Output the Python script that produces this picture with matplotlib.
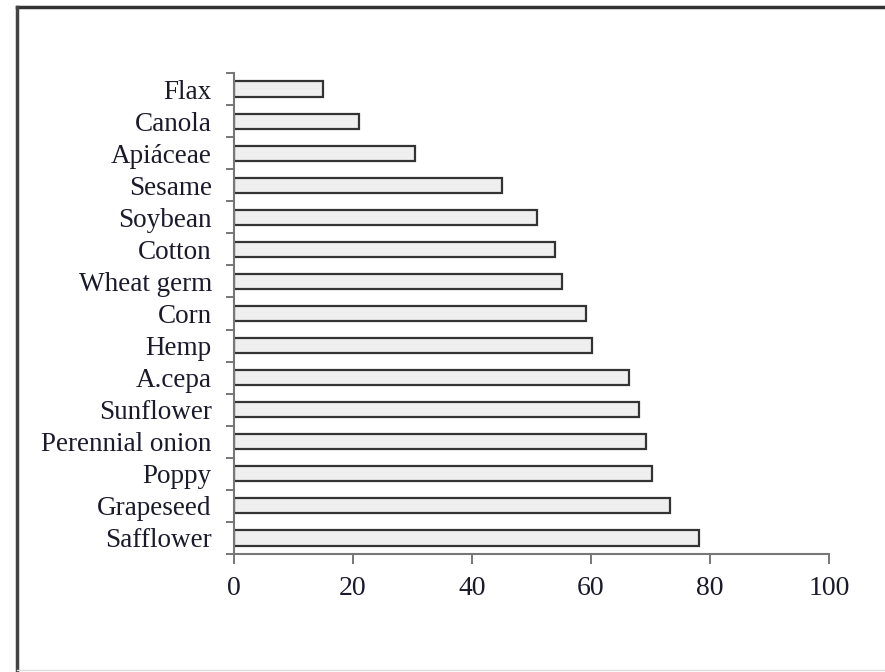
import matplotlib
matplotlib.use("Agg")
import matplotlib.pyplot as plt
from matplotlib.lines import Line2D
import numpy as np

# categories top to bottom
oils = ["Flax", "Canola", "Apiáceae", "Sesame", "Soybean", "Cotton", "Wheat germ",
        "Corn", "Hemp", "A.cepa", "Sunflower", "Perennial onion", "Poppy",
        "Grapeseed", "Safflower"]
values = [15, 21, 30.5, 45, 51, 54, 55.2, 59.2, 60.2, 66.4, 68.1, 69.2, 70.2, 73.2, 78.2]
xticks = [0, 20, 40, 60, 80, 100]

plt.rcParams['font.family'] = ['Liberation Serif', 'DejaVu Serif']

fig = plt.figure(figsize=(8.85, 6.72), dpi=100)
ax = fig.add_axes([234/885, 1 - 554/672, (829-234)/885, (554-73)/672])

pos = np.arange(len(oils))
ax.barh(pos, values, height=0.47, color='#efefef', edgecolor='#333333', linewidth=1.6)

ax.set_xlim(0, 100)
ax.set_ylim(len(oils) - 0.5, -0.5)
ax.set_xticks(xticks)
ax.set_xticklabels([str(t) for t in xticks], fontsize=20)
ax.set_yticks(pos)
ax.set_yticklabels(oils, fontsize=19.5)
ax.set_yticks(np.arange(len(oils) + 1) - 0.5, minor=True)

ax.tick_params(axis='y', which='major', length=0, pad=16, labelcolor='#1a1a2a')
ax.tick_params(axis='y', which='minor', length=6, width=1.4, color='#777777', direction='out')
ax.tick_params(axis='x', which='major', length=7, width=1.4, color='#777777', pad=9,
               labelcolor='#1a1a2a')

for s in ['top', 'right']:
    ax.spines[s].set_visible(False)
for s in ['left', 'bottom']:
    ax.spines[s].set_color('#777777')
    ax.spines[s].set_linewidth(1.5)

# frame around the figure (top and left heavy, bottom faint)
fig.add_artist(Line2D([17/885, 1], [1 - 7/672, 1 - 7/672], color='#333333', lw=2.5))
fig.add_artist(Line2D([17/885, 17/885], [1 - 7/672, 0], color='#444444', lw=2.5))
fig.add_artist(Line2D([17/885, 1], [1 - 670/672, 1 - 670/672], color='#dddddd', lw=1))

fig.savefig("out.png", dpi=100)
